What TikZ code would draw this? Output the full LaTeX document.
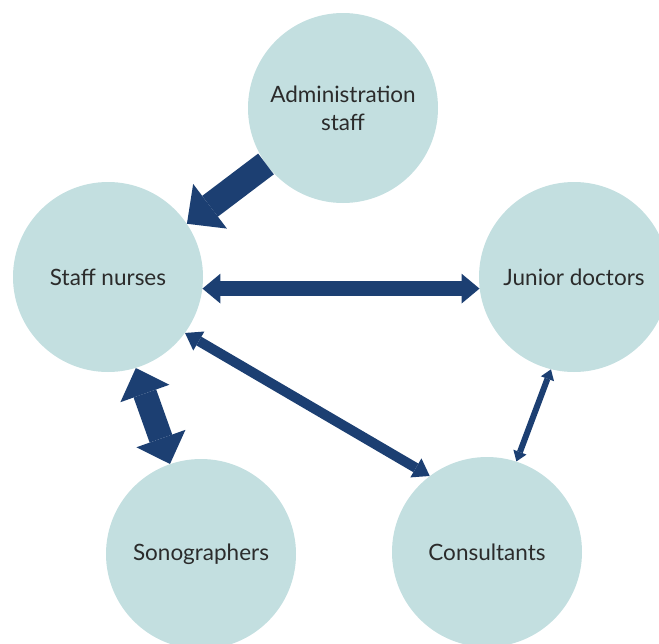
\documentclass[tikz,border=0pt]{standalone}
\usepackage{fontspec}
\setmainfont{Lato}
\usetikzlibrary{arrows.meta}
\definecolor{bubble}{HTML}{C3DFE0}
\definecolor{navy}{HTML}{1C3F72}
\definecolor{inktext}{HTML}{2B2B2B}

\begin{document}
\begin{tikzpicture}[
        x=1pt, y=-1pt,
        role/.style={circle, fill=bubble, minimum size=190pt, inner sep=0pt,
                     text=inktext, align=center, font=\fontsize{22.5}{28}\selectfont},
        link/.style={draw=navy, line width=#1}
    ]
        \clip (0,0) rectangle (659,643);
        \node[role] (admin) at (343,108) {Administration\\staff};
        \node[role] (nurses) at (108,277) {Staff nurses};
        \node[role] (junior) at (574,277) {Junior doctors};
        \node[role] (sono) at (201,554) {Sonographers};
        \node[role] (consult) at (487,552) {Consultants};

        \draw[link=26pt, -{Triangle[width=56pt,length=29pt,line width=0pt]}] (admin.216) -- (nurses.34);
        \draw[link=15pt, {Triangle[width=30pt,length=18pt,line width=0pt]}-{Triangle[width=30pt,length=18pt,line width=0pt]}] (nurses.-7) -- (junior.187);
        \draw[link=24pt, {Triangle[width=52pt,length=27pt,line width=0pt]}-{Triangle[width=52pt,length=27pt,line width=0pt]}] (nurses.-73) -- (sono.109);
        \draw[link=10pt, {Triangle[width=22pt,length=16pt,line width=0pt]}-{Triangle[width=22pt,length=16pt,line width=0pt]}] (nurses.-36) -- (consult.127);
        \draw[link=6pt, {Triangle[width=14pt,length=10pt,line width=0pt]}-{Triangle[width=14pt,length=10pt,line width=0pt]}] (junior.256) -- (consult.72);
    \end{tikzpicture}
\end{document}
